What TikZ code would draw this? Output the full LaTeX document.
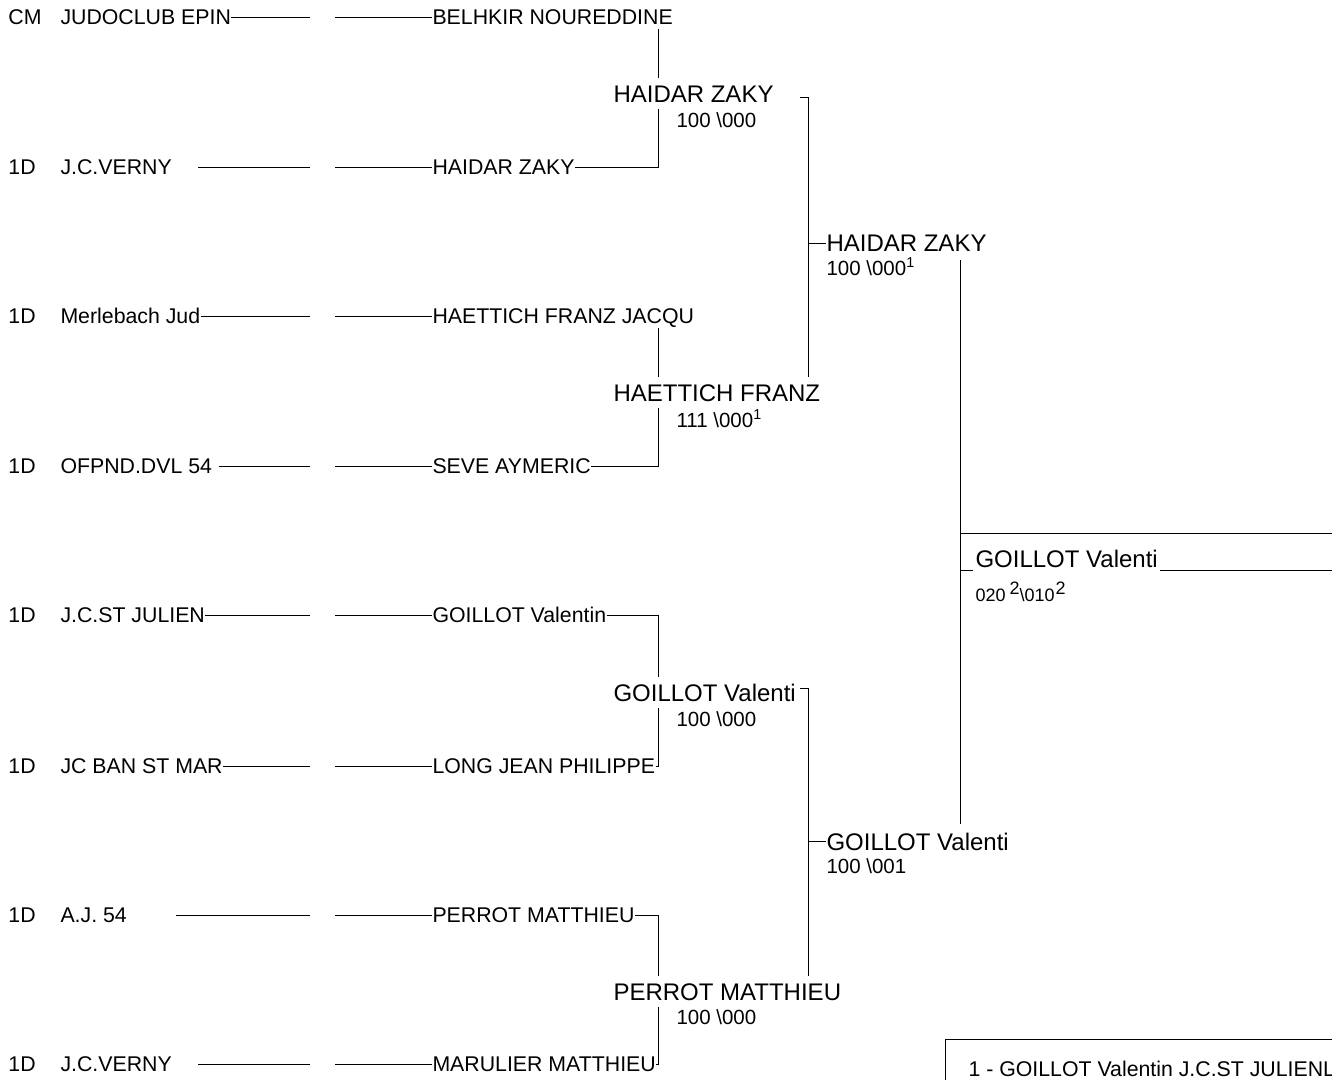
\documentclass[tikz,border=0pt]{standalone}
\usepackage{fontspec}
\setmainfont{Liberation Sans}

\tikzset{
  entry/.style={font=\fontsize{21.3}{24}\selectfont,inner xsep=0pt,inner ysep=4pt,anchor=west,text height=15.2pt,text depth=0pt},
  winner/.style={font=\fontsize{24}{28}\selectfont,inner xsep=0pt,inner ysep=6pt,anchor=west,text height=17.2pt,text depth=0pt},
  score/.style={font=\fontsize{20.5}{24}\selectfont,inner sep=0pt,anchor=base west},
  fscore/.style={inner sep=0pt,anchor=base west}
}
\newcommand{\finsize}{\fontsize{18}{20}\selectfont}
\newcommand{\upmark}[1]{\raisebox{6.5pt}{\finsize #1}}

\begin{document}
\begin{tikzpicture}[x=1pt,y=-1pt,line width=1pt]
\useasboundingbox (0,0) rectangle (1332,1079);
\clip (0,0) rectangle (1332,1079);
\coordinate (col1) at (658,0);
\coordinate (col2) at (808,0);
\coordinate (col3) at (960,0);

\node[entry] (g0) at (8,17) {CM};
\node[entry] (c0) at (60,17) {JUDOCLUB EPIN};
\node[entry] (n0) at (432,17) {BELHKIR NOUREDDINE};
\coordinate (a0) at (310,17); \coordinate (b0) at (335,17);
\draw (c0.east) -- (a0); \draw (b0) -- (n0.west);

\node[entry] (g1) at (8,167) {1D};
\node[entry] (c1) at (60,167) {J.C.VERNY};
\node[entry] (n1) at (432,167) {HAIDAR ZAKY};
\coordinate (a1) at (310,167); \coordinate (b1) at (335,167);
\draw ([xshift=26]c1.east) -- (a1); \draw (b1) -- (n1.west);

\node[entry] (g2) at (8,316) {1D};
\node[entry] (c2) at (60,316) {Merlebach Jud};
\node[entry] (n2) at (432,316) {HAETTICH FRANZ JACQU};
\coordinate (a2) at (310,316); \coordinate (b2) at (335,316);
\draw (c2.east) -- (a2); \draw (b2) -- (n2.west);

\node[entry] (g3) at (8,466) {1D};
\node[entry] (c3) at (60,466) {OFPND.DVL 54};
\node[entry] (n3) at (432,466) {SEVE AYMERIC};
\coordinate (a3) at (310,466); \coordinate (b3) at (335,466);
\draw ([xshift=6]c3.east) -- (a3); \draw (b3) -- (n3.west);

\node[entry] (g4) at (8,615) {1D};
\node[entry] (c4) at (60,615) {J.C.ST JULIEN};
\node[entry] (n4) at (432,615) {GOILLOT Valentin};
\coordinate (a4) at (310,615); \coordinate (b4) at (335,615);
\draw (c4.east) -- (a4); \draw (b4) -- (n4.west);

\node[entry] (g5) at (8,766) {1D};
\node[entry] (c5) at (60,766) {JC BAN ST MAR};
\node[entry] (n5) at (432,766) {LONG JEAN PHILIPPE};
\coordinate (a5) at (310,766); \coordinate (b5) at (335,766);
\draw (c5.east) -- (a5); \draw (b5) -- (n5.west);

\node[entry] (g6) at (8,915) {1D};
\node[entry] (c6) at (60,915) {A.J. 54};
\node[entry] (n6) at (432,915) {PERROT MATTHIEU};
\coordinate (a6) at (310,915); \coordinate (b6) at (335,915);
\draw ([xshift=49]c6.east) -- (a6); \draw (b6) -- (n6.west);

\node[entry] (g7) at (8,1064) {1D};
\node[entry] (c7) at (60,1064) {J.C.VERNY};
\node[entry] (n7) at (432,1064) {MARULIER MATTHIEU};
\coordinate (a7) at (310,1064); \coordinate (b7) at (335,1064);
\draw ([xshift=26]c7.east) -- (a7); \draw (b7) -- (n7.west);

\node[winner] (w1) at (613,93.5) {HAIDAR ZAKY};
\node[score] (s1) at (676,127) {100 \textbackslash 000};
\draw (n0.south -| col1) -- (w1.north -| col1);
\draw (n1.east) -| (w1.south -| col1);

\node[winner] (w2) at (613,392.5) {HAETTICH FRANZ};
\node[score] (s2) at (676,427) {111 \textbackslash 000\textsuperscript{1}};
\draw (n2.south -| col1) -- (w2.north -| col1);
\draw (n3.east) -| (w2.south -| col1);

\node[winner] (w3) at (613,692.5) {GOILLOT Valenti};
\node[score] (s3) at (676,726) {100 \textbackslash 000};
\draw (n4.east) -| (w3.north -| col1);
\draw (n5.east) -| (w3.south -| col1);

\node[winner] (w4) at (613,991.5) {PERROT MATTHIEU};
\node[score] (s4) at (676,1024) {100 \textbackslash 000};
\draw (n6.east) -| (w4.north -| col1);
\draw (n7.east) -| (w4.south -| col1);

\coordinate (t1) at (800,97);
\draw (t1) -| (w2.north -| col2);
\node[winner,inner ysep=8pt] (r1) at (826,243) {HAIDAR ZAKY};
\node[score] (q1) at (826,275) {100 \textbackslash 000\textsuperscript{1}};
\draw (r1.west -| col2) -- (r1.west);

\coordinate (t3) at (800,688);
\draw (t3) -| (w4.north -| col2);
\node[winner,inner ysep=8pt] (r2) at (826,841.4) {GOILLOT Valenti};
\node[score] (q2) at (826,873) {100 \textbackslash 001};
\draw (r2.west -| col2) -- (r2.west);

\draw (r1.south -| col3) -- (r2.north -| col3);
\coordinate (f1) at (1332,533);
\draw (f1 -| col3) -- (f1);
\node[winner,inner ysep=0pt,inner xsep=2pt] (fin) at (973,559) {GOILLOT Valenti};
\coordinate (f2) at (1332,570);
\draw (f2 -| col3) -- (f2 -| fin.west);
\draw (f2 -| fin.east) -- (f2);
\node[fscore] (q3) at (975,601) {\finsize 020\hspace{4pt}\upmark{2}\textbackslash 010\hspace{1pt}\upmark{2}};

\draw (945,1039) rectangle (1420,1120);
\node[score,font=\fontsize{21.3}{24}\selectfont] (res) at (968,1076) {1 - GOILLOT Valentin J.C.ST JULIENL};
\end{tikzpicture}
\end{document}
